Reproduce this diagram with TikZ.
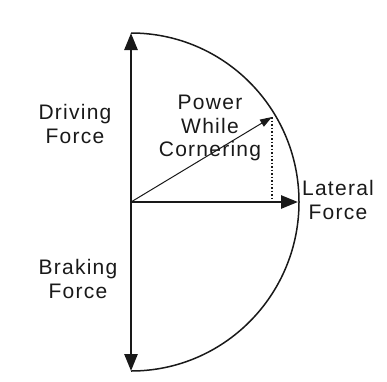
\documentclass[tikz,border=0pt]{standalone}
\usepackage{fontspec}
\setmainfont{Liberation Sans}[LetterSpace=6]
\usepackage{tikz}
\usetikzlibrary{arrows.meta, calc}
\definecolor{myink}{RGB}{25,25,25}
\tikzset{
  lbl/.style={align=center, inner sep=0pt, text=myink,
    font=\fontsize{21}{23.5}\selectfont},
  bigarrow/.style={-{Triangle[length=17pt,width=13pt]}, line width=2.6pt, color=myink},
  thinarrow/.style={-{Triangle[length=12pt,width=8pt]}, line width=1pt, color=myink},
  rim/.style={line width=1.5pt, color=myink},
  drop/.style={dotted, line width=1.5pt, color=myink}
}

\begin{document}
\begin{tikzpicture}[x=1pt, y=-1pt]
  \useasboundingbox (0,0) rectangle (387,381);

  \coordinate (O) at (131,202);
  \coordinate (top) at (131,33);
  \coordinate (bot) at (131,371);
  \coordinate (lat) at (298,202);
  \coordinate (pw) at (272,117);
  \coordinate (foot) at (272,202);

  % friction ellipse, right half
  \draw[rim] (top) arc[start angle=-90, end angle=90, x radius=168, y radius=169];

  \draw[bigarrow] (O) -- (top);
  \draw[bigarrow] (O) -- (bot);
  \draw[bigarrow] (O) -- (lat);
  \draw[thinarrow] (O) -- (pw);
  \draw[drop] (pw) -- (foot);

  \node[lbl] (drive) at (75,124) {Driving\\Force};
  \node[lbl] (brake) at (78,279) {Braking\\Force};
  \node[lbl] (power) at (210,128) {Power\\While\\Cornering};
  \node[lbl] (lateral) at (338,200) {Lateral\\Force};
\end{tikzpicture}
\end{document}
